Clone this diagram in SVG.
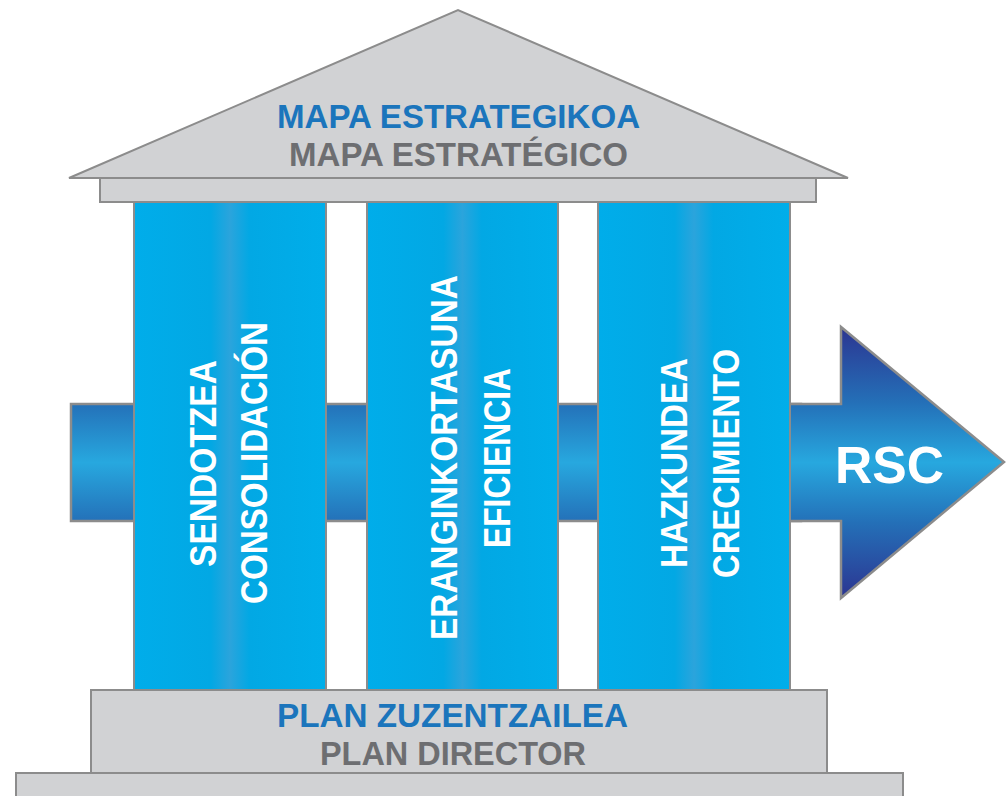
<svg xmlns="http://www.w3.org/2000/svg" width="1008" height="796" viewBox="0 0 1008 796">
<defs>
<linearGradient id="barGrad" gradientUnits="userSpaceOnUse" x1="0" y1="327" x2="0" y2="598">
<stop offset="0" stop-color="#2c3591"/>
<stop offset="0.28" stop-color="#2470b8"/>
<stop offset="0.5" stop-color="#27a8df"/>
<stop offset="0.72" stop-color="#2470b8"/>
<stop offset="1" stop-color="#2c3591"/>
</linearGradient>
<linearGradient id="pillarGrad" x1="0" y1="0" x2="1" y2="0">
<stop offset="0" stop-color="#00adea"/>
<stop offset="0.4" stop-color="#02a8e4"/>
<stop offset="0.5" stop-color="#2ba4dc"/>
<stop offset="0.6" stop-color="#02a8e4"/>
<stop offset="1" stop-color="#00aeea"/>
</linearGradient>
</defs>
<style>
.gray{fill:#d1d2d4;stroke:#8c8c8c;stroke-width:2}
.pillar{fill:url(#pillarGrad);stroke:#8c8c8c;stroke-width:2}
.bar{fill:url(#barGrad);stroke:#8c8c8c;stroke-width:2.5}
.t{font-family:"Liberation Sans",Arial,sans-serif;font-weight:bold;text-anchor:middle}
.blue{fill:#1b75bc;font-size:33px}
.dgray{fill:#6d6e71;font-size:33px}
.pt{fill:#ffffff;font-size:36px}
</style>
<g id="connectors">
<rect class="bar" x="71" y="404" width="730" height="117"/>
<polygon class="bar" points="788,404 841,404 841,327 1004,462 841,598 841,521 788,521"/>
</g>
<g id="pillar-1">
<rect class="pillar" x="134" y="200" width="192" height="492"/>
<text class="t pt" transform="translate(216,463.5) rotate(-90)" textLength="207" lengthAdjust="spacingAndGlyphs">SENDOTZEA</text>
<text class="t pt" transform="translate(267,463) rotate(-90)" textLength="282" lengthAdjust="spacingAndGlyphs">CONSOLIDACIÓN</text>
</g>
<g id="pillar-2">
<rect class="pillar" x="367" y="200" width="191" height="492"/>
<text class="t pt" transform="translate(457,457.5) rotate(-90)" textLength="365" lengthAdjust="spacingAndGlyphs">ERANGINKORTASUNA</text>
<text class="t pt" transform="translate(510,458) rotate(-90)" textLength="180" lengthAdjust="spacingAndGlyphs">EFICIENCIA</text>
</g>
<g id="pillar-3">
<rect class="pillar" x="598" y="200" width="192" height="492"/>
<text class="t pt" transform="translate(687,463) rotate(-90)" textLength="210" lengthAdjust="spacingAndGlyphs">HAZKUNDEA</text>
<text class="t pt" transform="translate(739,463.5) rotate(-90)" textLength="229" lengthAdjust="spacingAndGlyphs">CRECIMIENTO</text>
</g>
<g id="roof">
<rect class="gray" x="100" y="178" width="716" height="24"/>
<polygon class="gray" points="69,178 458,10 848,178"/>
<text class="t blue" x="458.5" y="128" textLength="363" lengthAdjust="spacingAndGlyphs">MAPA ESTRATEGIKOA</text>
<text class="t dgray" x="458.5" y="166" textLength="339" lengthAdjust="spacingAndGlyphs">MAPA ESTRATÉGICO</text>
</g>
<g id="base">
<rect class="gray" x="16" y="773" width="887" height="30"/>
<rect class="gray" x="91" y="690" width="736" height="83"/>
<text class="t blue" x="452.5" y="727" textLength="351" lengthAdjust="spacingAndGlyphs">PLAN ZUZENTZAILEA</text>
<text class="t dgray" x="453" y="765" textLength="266" lengthAdjust="spacingAndGlyphs">PLAN DIRECTOR</text>
</g>
<g id="rsc">
<text class="t" x="889.5" y="483" style="fill:#ffffff;font-size:52px" textLength="109" lengthAdjust="spacingAndGlyphs">RSC</text>
</g>
</svg>
